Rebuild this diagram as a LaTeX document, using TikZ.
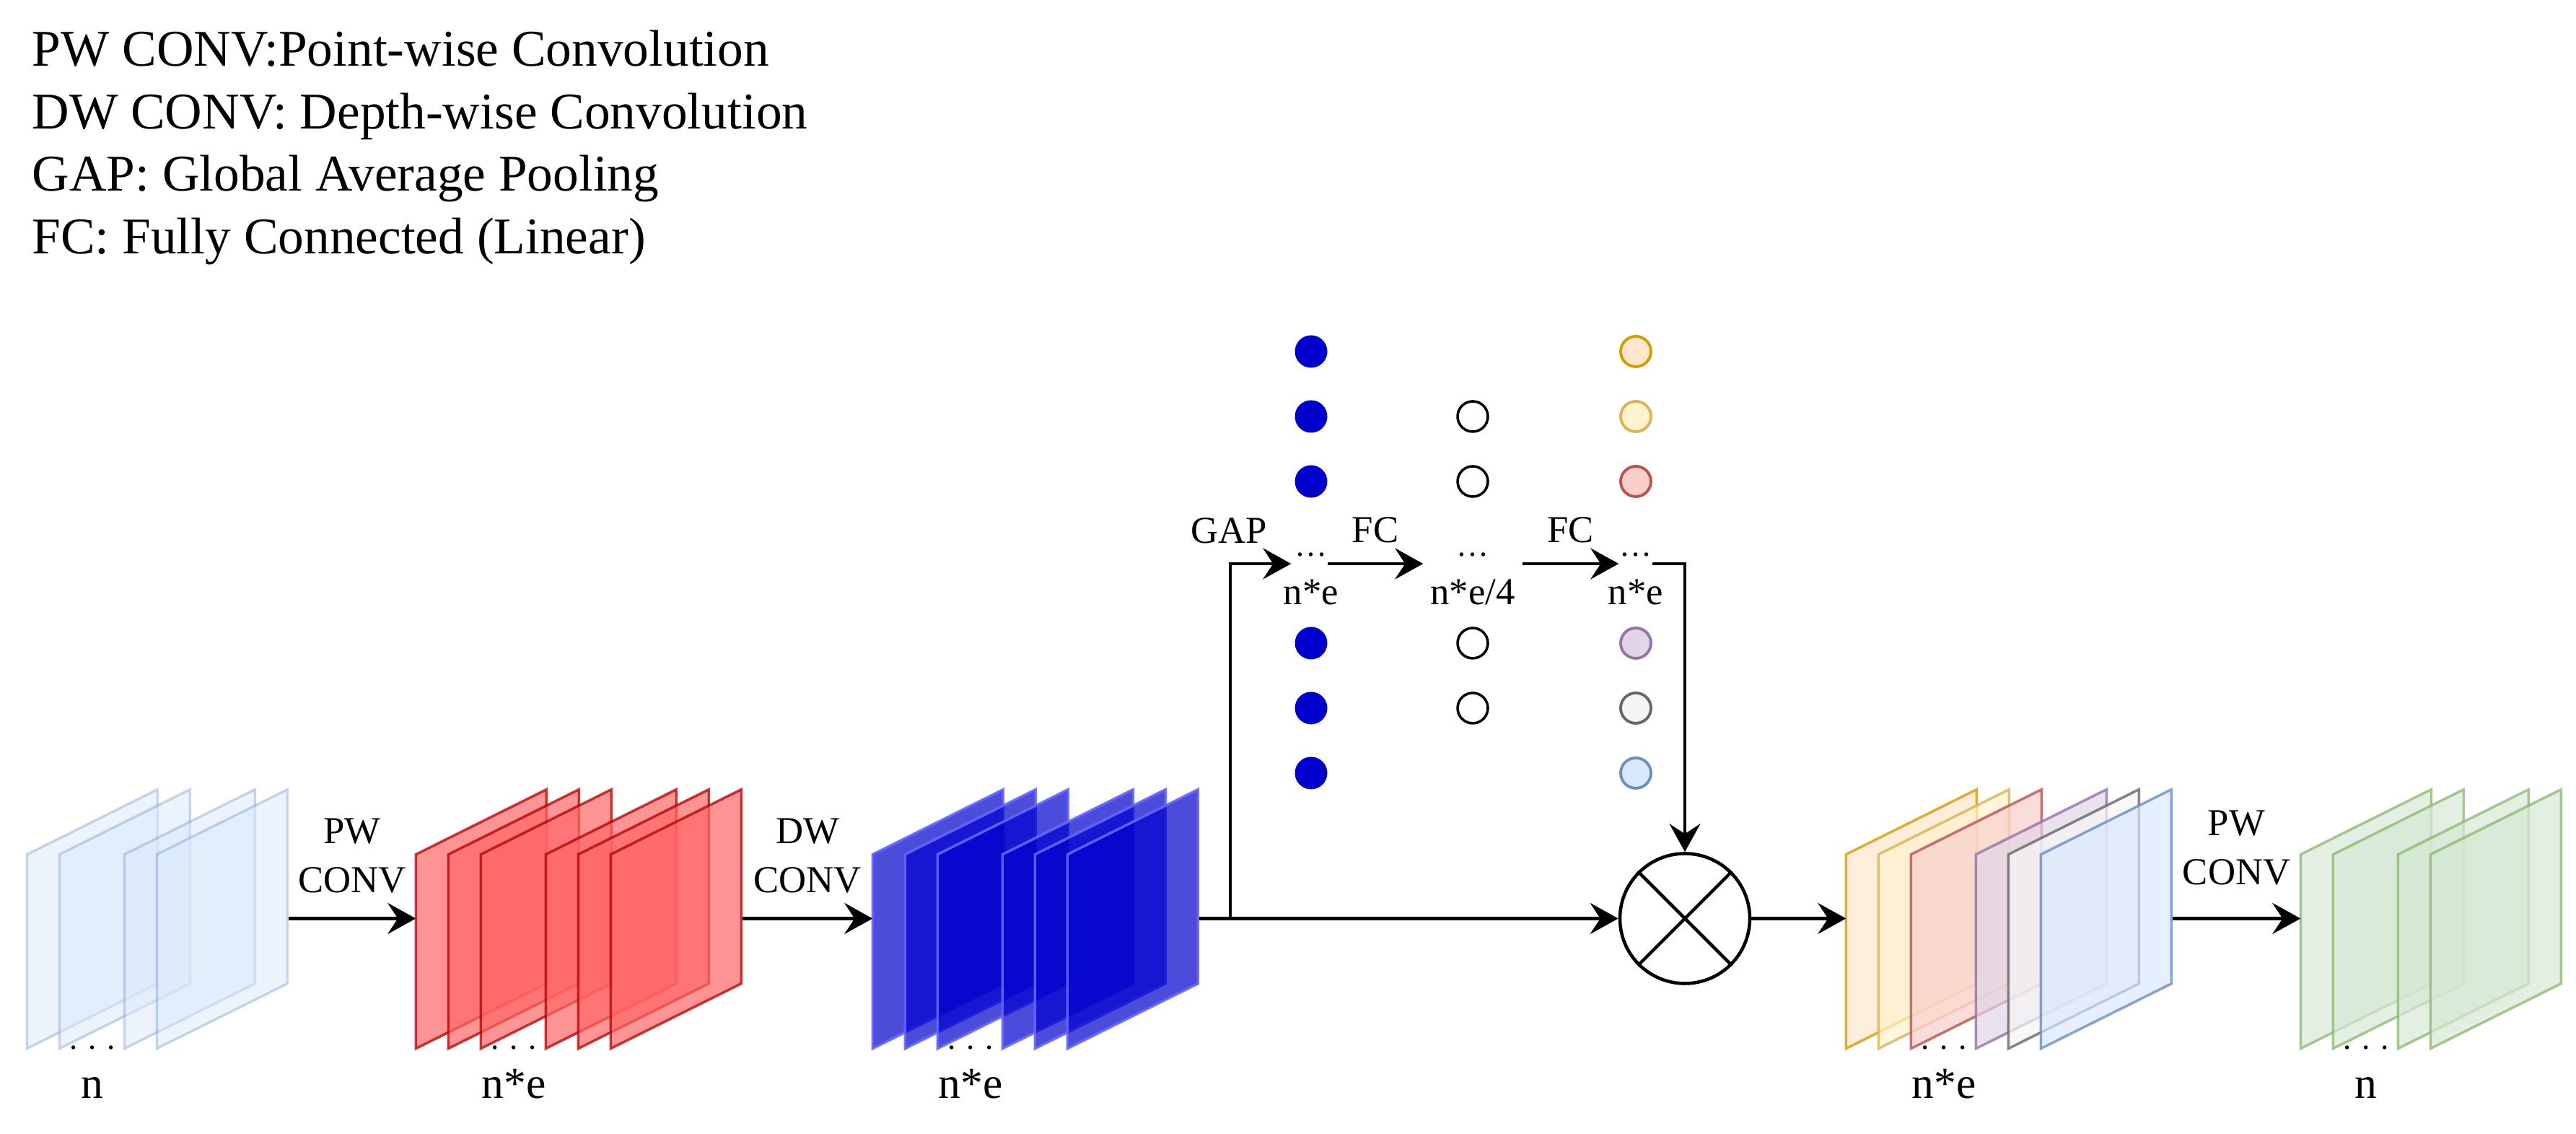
\documentclass[tikz,border=0pt]{standalone}
\usepackage{fontspec}
\setmainfont{Liberation Serif}
\usetikzlibrary{arrows.meta,positioning}

\definecolor{dwblue}{HTML}{0000CC}
\definecolor{dwline}{HTML}{6666FF}
\definecolor{pwred}{HTML}{FF6666}
\definecolor{pwline}{HTML}{B20000}
\definecolor{orF}{HTML}{FFE6CC}\definecolor{orD}{HTML}{D79B00}
\definecolor{yeF}{HTML}{FFF2CC}\definecolor{yeD}{HTML}{D6B656}
\definecolor{rdF}{HTML}{F8CECC}\definecolor{rdD}{HTML}{B85450}
\definecolor{puF}{HTML}{E1D5E7}\definecolor{puD}{HTML}{9673A6}
\definecolor{gyF}{HTML}{F5F5F5}\definecolor{gyD}{HTML}{666666}
\definecolor{blF}{HTML}{DAE8FC}\definecolor{blD}{HTML}{6C8EBF}
\definecolor{grF}{HTML}{D5E8D4}\definecolor{grD}{HTML}{82B366}

\newcommand{\legfont}{\fontsize{20.3pt}{24.6pt}\selectfont}
\newcommand{\labfont}{\fontsize{15pt}{19.3pt}\selectfont}
\newcommand{\dimfont}{\fontsize{17.5pt}{21pt}\selectfont}
\newcommand{\dotfont}{\fontsize{12.8pt}{15pt}\selectfont}

\begin{document}
\begin{tikzpicture}[
    >={Stealth[length=0.39cm,width=0.43cm,inset=0.14cm]},
    conn/.style={line width=1.3pt,->},
    grp/.style={inner sep=0,minimum height=3.59cm},
    hub/.style={inner sep=0,minimum height=0pt},
    fmap/.style={line width=1pt},
    lab/.style={font=\labfont,inner sep=0,anchor=base},
    oplab/.style={font=\labfont,inner sep=0,align=center},
    dimlab/.style={font=\dimfont,inner sep=0,anchor=base},
    botdots/.style={font=\dotfont,inner sep=0,anchor=base},
    leg/.style={font=\legfont,inner sep=0,anchor=base west},
    gapdot/.style={circle,fill=dwblue,inner sep=0,minimum size=0.45cm},
    fcdot/.style={circle,draw,fill=white,line width=1pt,inner sep=0,minimum size=0.42cm},
    scdot/.style={circle,line width=1.1pt,inner sep=0,minimum size=0.42cm},
    mulnode/.style={circle,draw,fill=white,line width=1.3pt,inner sep=0,minimum size=1.8cm}
]
    \useasboundingbox (0,0) rectangle (35.7,15.71);
    % Leyenda
    \node[leg] (leg1) at (0.44,14.79) {PW CONV:Point-wise Convolution};
    \node[leg] (leg2) at (0.44,13.92) {DW CONV: Depth-wise Convolution};
    \node[leg] (leg3) at (0.44,13.06) {GAP: Global Average Pooling};
    \node[leg] (leg4) at (0.44,12.19) {FC: Fully Connected (Linear)};

    % Grupos de mapas
    \node[grp,minimum width=3.61cm] (g1) at (2.185,2.985) {};
    \node[grp,minimum width=4.51cm] (g2) at (8.025,2.985) {};
    \node[grp,minimum width=4.51cm] (g3) at (14.355,2.985) {};
    \node[grp,minimum width=4.51cm] (g4) at (27.845,2.985) {};
    \node[grp,minimum width=3.61cm] (g5) at (33.695,2.985) {};
    \foreach \o in {0,0.45,1.35,1.8}{
        \draw[fmap,fill=blF,draw=blD,fill opacity=0.5,draw opacity=0.35] ([xshift=\o cm]g1.south west) -- ++(0,2.69) -- ++(1.81,0.9) -- ++(0,-2.69) -- cycle;
    }
    \foreach \o in {0,0.45,0.9,1.8,2.25,2.7}{
        \draw[fmap,fill=pwred,draw=pwline,fill opacity=0.7,draw opacity=0.75] ([xshift=\o cm]g2.south west) -- ++(0,2.69) -- ++(1.81,0.9) -- ++(0,-2.69) -- cycle;
        \draw[fmap,fill=dwblue,draw=dwline,fill opacity=0.7,draw opacity=0.9] ([xshift=\o cm]g3.south west) -- ++(0,2.69) -- ++(1.81,0.9) -- ++(0,-2.69) -- cycle;
    }
    \foreach \o/\fc/\dc in {0/orF/orD,0.45/yeF/yeD,0.9/rdF/rdD,1.8/puF/puD,2.25/gyF/gyD,2.7/blF/blD}{
        \draw[fmap,fill=\fc,draw=\dc,fill opacity=0.7,draw opacity=0.8] ([xshift=\o cm]g4.south west) -- ++(0,2.69) -- ++(1.81,0.9) -- ++(0,-2.69) -- cycle;
    }
    \foreach \o in {0,0.45,1.35,1.8}{
        \draw[fmap,fill=grF,draw=grD,fill opacity=0.7,draw opacity=0.7] ([xshift=\o cm]g5.south west) -- ++(0,2.69) -- ++(1.81,0.9) -- ++(0,-2.69) -- cycle;
    }
    \node[botdots] (g1d) at (1.28,1.175) {. . .};
    \node[botdots] (g2d) at (7.12,1.175) {. . .};
    \node[botdots] (g3d) at (13.45,1.175) {. . .};
    \node[botdots] (g4d) at (26.94,1.175) {. . .};
    \node[botdots] (g5d) at (32.79,1.175) {. . .};
    \node[dimlab] (g1n) at (1.28,0.49) {n};
    \node[dimlab] (g2n) at (7.12,0.49) {n*e};
    \node[dimlab] (g3n) at (13.45,0.49) {n*e};
    \node[dimlab] (g4n) at (26.94,0.49) {n*e};
    \node[dimlab] (g5n) at (32.79,0.49) {n};

    % Vectores GAP y FC
    \foreach \y [count=\i] in {10.84,9.94,9.04,6.80,5.90,5.00}
        \node[gapdot] (a\i) at (18.17,\y) {};
    \foreach \y [count=\i] in {9.94,9.04,6.80,5.90}
        \node[fcdot] (b\i) at (20.41,\y) {};
    \foreach \y/\fc/\dc [count=\i] in {10.84/orF/orD,9.94/yeF/yeD,9.04/rdF/rdD,6.80/puF/puD,5.90/gyF/gyD,5.00/blF/blD}
        \node[scdot,fill=\fc,draw=\dc] (s\i) at (22.67,\y) {};
    \node[hub,minimum width=0.49cm] (h1) at (18.145,7.90) {};
    \node[hub,minimum width=1.36cm] (h2) at (20.41,7.90) {};
    \node[hub,minimum width=0.45cm] (h3) at (22.665,7.90) {};
    \node[botdots] (d1) at (18.17,8.00) {…};
    \node[botdots] (d2) at (20.41,8.00) {…};
    \node[botdots] (d3) at (22.67,8.00) {…};
    \node[lab] (n1) at (18.17,7.33) {n*e};
    \node[lab] (n2) at (20.41,7.33) {n*e/4};
    \node[lab] (n3) at (22.67,7.33) {n*e};
    \node[lab] (gap) at (17.03,8.18) {GAP};

    % Producto
    \node[mulnode] (mul) at (23.35,2.985) {};
    \draw[line width=1.3pt] (mul.north west) -- (mul.south east) (mul.north east) -- (mul.south west);

    % Conexiones
    \coordinate (br) at (17.05,2.985);
    \draw[conn] (g1.east) -- (g2.west) node[midway,above=0.33cm,oplab] {PW\\CONV};
    \draw[conn] (g2.east) -- (g3.west) node[midway,above=0.33cm,oplab] {DW\\CONV};
    \draw[conn] (g3.east) -- (mul.west);
    \draw[conn] (br) |- (h1.west);
    \draw[conn] (h1.east) -- (h2.west) node[midway,above=0.27cm,oplab] {FC};
    \draw[conn] (h2.east) -- (h3.west) node[midway,above=0.27cm,oplab] {FC};
    \draw[conn] (h3.east) -| (mul.north);
    \draw[conn] (mul.east) -- (g4.west);
    \draw[conn] (g4.east) -- (g5.west) node[midway,above=0.44cm,oplab] {PW\\CONV};
\end{tikzpicture}
\end{document}
